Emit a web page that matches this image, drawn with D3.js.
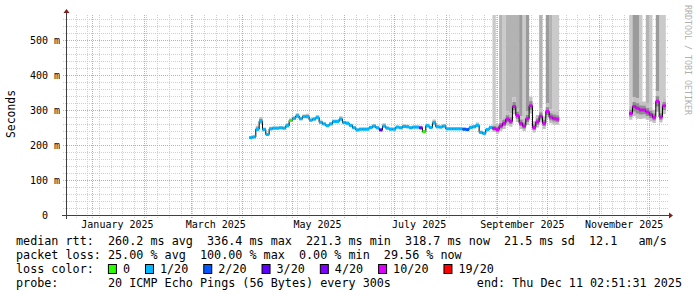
<!DOCTYPE html>
<html>
<head>
<meta charset="utf-8">
<script src="https://cdn.jsdelivr.net/npm/d3@7"></script>
<style>
  html, body { margin: 0; padding: 0; background: #fff; }
  svg { display: block; }
  text { font-family: "DejaVu Sans Mono", monospace; white-space: pre; }
</style>
</head>
<body>
<div id="svg-container"></div>
<script>
// graph time frame: 360 days ending at probe time
const endTime = '2025-12-11T02:51:31Z';
const spanDays = 360;
const stepDays = 2;
const yTop = 571.4; // ms at the top of the canvas

// month labels (placed half a month after the month start)
const monthLabels = ['January 2025', 'March 2025', 'May 2025', 'July 2025', 'September 2025', 'November 2025'];
const monthLabelDates = ['2025-01-01', '2025-03-01', '2025-05-01', '2025-07-01', '2025-09-01', '2025-11-01'];

// first block: Apr 5 -> Sep 7, one value every 2 days (ms)
const medA = [
  221, 223, 245, 268, 244, 230, 246, 248, 248, 249,
  248, 255, 270, 276, 283, 275, 281, 281, 271, 274,
  278, 265, 260, 255, 260, 267, 267, 274, 264, 262,
  256, 249, 243, 245, 245, 245, 250, 254, 249, 243,
  254, 248, 245, 245, 251, 249, 253, 252, 249, 251,
  251, 249, 238, 255, 250, 263, 252, 251, 254, 246,
  246, 246, 246, 246, 245, 244, 250, 252, 256, 236,
  233, 244, 250, 247, 244, 254, 262, 274, 268, 310,
  284, 262, 254, 275, 312, 250, 266, 282, 262, 296,
  280, 276, 274
];
const lossA = [
  1, 1, 1, 1, 1, 1, 1, 1, 1, 1,
  1, 1, 0, 1, 1, 1, 1, 1, 1, 1,
  1, 1, 1, 1, 1, 1, 1, 1, 1, 1,
  1, 1, 1, 1, 1, 1, 1, 1, 1, 3,
  1, 1, 1, 1, 1, 1, 1, 1, 1, 1,
  1, 4, 0, 1, 1, 1, 1, 1, 1, 1,
  1, 1, 1, 1, 2, 2, 1, 1, 1, 1,
  1, 1, 1, 6, 7, 6, 8, 9, 8, 7,
  6, 7, 8, 6, 7, 9, 6, 7, 8, 7,
  6, 7, 6
];
// smoke spread above / below the median (ms)
const upA = [
  4, 4, 10, 12, 6, 5, 6, 5, 5, 5,
  5, 8, 6, 6, 8, 6, 6, 8, 5, 5,
  8, 5, 5, 5, 5, 6, 6, 8, 5, 5,
  5, 5, 5, 5, 5, 5, 5, 6, 5, 5,
  8, 5, 5, 5, 5, 5, 6, 6, 5, 5,
  5, 6, 5, 6, 5, 10, 6, 5, 6, 5,
  5, 5, 5, 5, 5, 5, 6, 6, 8, 5,
  5, 5, 6, 14, 16, 18, 20, 22, 22, 26,
  22, 20, 20, 22, 26, 18, 20, 22, 20, 24,
  22, 22, 20
];
const downA = [
  3, 3, 6, 8, 5, 4, 4, 3, 3, 3,
  3, 4, 4, 4, 5, 4, 4, 5, 4, 4,
  4, 4, 3, 3, 3, 4, 4, 5, 4, 4,
  4, 3, 3, 3, 3, 3, 3, 4, 3, 3,
  4, 3, 3, 3, 3, 3, 4, 4, 3, 3,
  3, 4, 3, 4, 3, 5, 4, 3, 4, 3,
  3, 3, 3, 3, 3, 3, 4, 4, 5, 3,
  3, 3, 4, 10, 12, 14, 16, 18, 16, 22,
  18, 16, 14, 18, 22, 14, 16, 18, 16, 20,
  18, 18, 16
];
// pings slower than the graph top (0 = none, 3 = many)
const slowA = [
  0, 0, 0, 0, 0, 0, 0, 0, 0, 0,
  0, 0, 0, 0, 0, 0, 0, 0, 0, 0,
  0, 0, 0, 0, 0, 0, 0, 0, 0, 0,
  0, 0, 0, 0, 0, 0, 0, 0, 0, 0,
  0, 0, 0, 0, 0, 0, 0, 0, 0, 0,
  0, 0, 0, 0, 0, 0, 0, 0, 0, 0,
  0, 0, 0, 0, 0, 0, 0, 0, 0, 0,
  0, 0, 0, 1, 0, 2, 1, 2, 2, 2,
  2, 3, 1, 3, 0, 0, 0, 2, 0, 3,
  2, 1, 1
];

// second block: Nov 19 -> Dec 11
const medB = [290, 310, 305, 300, 300, 294, 287, 279, 325, 280, 312];
const lossB = [7, 6, 8, 7, 6, 7, 8, 6, 7, 6, 6];
const upB = [22, 26, 28, 25, 24, 24, 22, 22, 28, 22, 22];
const downB = [18, 28, 30, 26, 24, 22, 20, 16, 30, 16, 24];
const slowB = [1, 3, 3, 1, 0, 2, 1, 0, 3, 1, 1];

const segments = [
  { first: '2025-04-05', median: medA, loss: lossA, up: upA, down: downA, slow: slowA },
  { first: '2025-11-19', median: medB, loss: lossB, up: upB, down: downB, slow: slowB }
];

// loss colours (smokeping defaults)
const lossSteps = [0, 1, 2, 3, 4, 10, 19];
const lossLabels = ['0', '1/20', '2/20', '3/20', '4/20', '10/20', '19/20'];
const lossColors = ['#26ff00', '#00b8ff', '#0059ff', '#5e00ff', '#7e00ff', '#dd00ff', '#ff0000'];
const slowShades = ['#cacaca', '#b3b3b3', '#9b9b9b'];

// legend texts
const legendRows = [
  'median rtt:  260.2 ms avg  336.4 ms max  221.3 ms min  318.7 ms now  21.5 ms sd  12.1   am/s',
  'packet loss: 25.00 % avg  100.00 % max  0.00 % min  29.56 % now',
  'loss color:',
  'probe:       20 ICMP Echo Pings (56 Bytes) every 300s'
];
const endLabel = 'end: Thu Dec 11 02:51:31 2025';

// dimensions
const dim = {
  width: 697,
  height: 297,
  left: 66,
  right: 666,
  top: 15,
  bottom: 215
};

const svg = d3.select('#svg-container')
  .append('svg')
  .attr('width', dim.width)
  .attr('height', dim.height)
  .style('background', '#fff');

const end = new Date(endTime);
const start = d3.utcDay.offset(end, -spanDays);

const x = d3.scaleUtc().domain([start, end]).range([dim.left, dim.right]);
const y = d3.scaleLinear().domain([0, yTop]).range([dim.bottom, dim.top]);

const lossColor = d3.scaleThreshold()
  .domain(lossSteps.slice(0, -1).map(s => s + 1))
  .range(lossColors);

// each segment as step points, with a closing point at the end
const segPoints = segments.map(seg => {
  const first = new Date(seg.first + 'T00:00:00Z');
  const pts = seg.median.map((m, i) => {
    const t0 = d3.utcDay.offset(first, i * stepDays);
    return {
      t: t0, t1: d3.utcDay.offset(t0, stepDays),
      med: m, loss: seg.loss[i], up: seg.up[i], down: seg.down[i], slow: seg.slow[i]
    };
  });
  const last = pts[pts.length - 1];
  return pts.concat([Object.assign({}, last, { t: last.t1 })]);
});
const points = segPoints.flatMap(pts => pts.slice(0, -1));

// grid (under the graph)
const grid = svg.append('g').attr('fill', 'none');
const px = v => Math.round(v) + 0.5;

grid.selectAll('.vminor')
  .data(d3.utcSunday.range(start, end))
  .join('line')
    .attr('x1', d => px(x(d))).attr('x2', d => px(x(d)))
    .attr('y1', dim.top).attr('y2', dim.bottom + 3)
    .attr('stroke', '#d0d0d0')
    .attr('stroke-dasharray', '1,1');

grid.selectAll('.hminor')
  .data(y.ticks(30).filter(v => v % 100 !== 0))
  .join('line')
    .attr('x1', dim.left - 3).attr('x2', dim.right + 3)
    .attr('y1', d => px(y(d))).attr('y2', d => px(y(d)))
    .attr('stroke', '#d0d0d0')
    .attr('stroke-dasharray', '1,1');

grid.selectAll('.vmajor')
  .data(d3.utcMonth.range(start, end))
  .join('line')
    .attr('x1', d => px(x(d))).attr('x2', d => px(x(d)))
    .attr('y1', dim.top).attr('y2', dim.bottom + 3)
    .attr('stroke', '#e89c9c')
    .attr('stroke-dasharray', '1,1');

grid.selectAll('.hmajor')
  .data(y.ticks(6).filter(v => v > 0))
  .join('line')
    .attr('x1', dim.left - 3).attr('x2', dim.right + 3)
    .attr('y1', d => px(y(d))).attr('y2', d => px(y(d)))
    .attr('stroke', '#e89c9c')
    .attr('stroke-dasharray', '1,1');

svg.append('clipPath').attr('id', 'canvas')
  .append('rect')
  .attr('x', dim.left).attr('y', dim.top)
  .attr('width', dim.right - dim.left).attr('height', dim.bottom - dim.top);

const plot = svg.append('g').attr('clip-path', 'url(#canvas)');

const stepArea = (lo, hi) => d3.area()
  .x(d => x(d.t))
  .y0(d => y(lo(d)))
  .y1(d => y(hi(d)))
  .curve(d3.curveStepAfter);

// slow pings reaching beyond the top, one layer per shade
slowShades.forEach((shade, k) => {
  const area = stepArea(d => d.med + d.up, d => d.slow === k + 1 ? yTop + 50 : d.med + d.up);
  plot.append('g')
    .selectAll('path')
    .data(segPoints)
    .join('path')
      .attr('d', area)
      .attr('fill', shade);
});

// smoke: outer and inner band
plot.append('g')
  .selectAll('path')
  .data(segPoints)
  .join('path')
    .attr('d', stepArea(d => d.med - d.down, d => d.med + d.up))
    .attr('fill', '#c2c2c2');

plot.append('g')
  .selectAll('path')
  .data(segPoints)
  .join('path')
    .attr('d', stepArea(d => d.med - d.down * 0.5, d => d.med + d.up * 0.5))
    .attr('fill', '#8e8e8e');

// median line
const medLine = d3.line()
  .x(d => x(d.t))
  .y(d => y(d.med))
  .curve(d3.curveStepAfter);

plot.append('g')
  .selectAll('path')
  .data(segPoints)
  .join('path')
    .attr('d', medLine)
    .attr('fill', 'none')
    .attr('stroke', '#000')
    .attr('stroke-width', 1);

// loss coloured median band
plot.append('g')
  .selectAll('rect')
  .data(points)
  .join('rect')
    .attr('x', p => x(p.t))
    .attr('width', p => x(p.t1) - x(p.t))
    .attr('y', p => y(p.med) - 1.5)
    .attr('height', 3)
    .attr('fill', p => lossColor(p.loss));

// axes
const axis = svg.append('g');
axis.append('line')
  .attr('x1', dim.left - 4).attr('x2', dim.right + 3)
  .attr('y1', px(y(0))).attr('y2', px(y(0)))
  .attr('stroke', '#404040');
axis.append('line')
  .attr('x1', px(dim.left)).attr('x2', px(dim.left))
  .attr('y1', dim.bottom + 4).attr('y2', dim.top - 2)
  .attr('stroke', '#404040');
axis.append('path')
  .attr('d', `M${px(dim.left) - 3},${dim.top - 2}L${px(dim.left)},${dim.top - 6}L${px(dim.left) + 3},${dim.top - 2}Z`)
  .attr('fill', '#7f1f1f');
axis.append('path')
  .attr('d', `M${dim.right + 3},${px(y(0)) - 3}L${dim.right + 7},${px(y(0))}L${dim.right + 3},${px(y(0)) + 3}Z`)
  .attr('fill', '#7f1f1f');

// y labels
const yFmt = d3.format('3d');
svg.append('g')
  .selectAll('text')
  .data(y.ticks(6))
  .join('text')
    .attr('x', dim.left - 36)
    .attr('y', d => y(d) + 3.6)
    .attr('font-size', '10px')
    .text(d => d === 0 ? yFmt(d) : `${yFmt(d)} m`);

// x labels
svg.append('g')
  .selectAll('text')
  .data(monthLabelDates)
  .join('text')
    .attr('x', d => x(d3.utcDay.offset(new Date(d + 'T00:00:00Z'), 15)))
    .attr('y', dim.bottom + 12.5)
    .attr('text-anchor', 'middle')
    .attr('font-size', '10px')
    .text((d, i) => monthLabels[i]);

// unit label
svg.append('text')
  .attr('transform', `translate(15, ${(dim.top + dim.bottom) / 2 - 1}) rotate(-90)`)
  .attr('text-anchor', 'middle')
  .attr('font-size', '11.4px')
  .text('Seconds');

// watermark
svg.append('text')
  .attr('transform', 'translate(685, 5) rotate(90)')
  .attr('font-size', '8.3px')
  .attr('fill', '#b0b0b0')
  .text('RRDTOOL / TOBI OETIKER');

// legend
const legendX = 16;
const charW = 7.07;
const rowY = [245, 259, 273, 287];
const legend = svg.append('g').attr('font-size', '11.75px');

legend.selectAll('.row')
  .data(legendRows)
  .join('text')
    .attr('x', legendX)
    .attr('y', (d, i) => rowY[i])
    .text(d => d);

legend.append('text')
  .attr('x', 682)
  .attr('y', rowY[3])
  .attr('text-anchor', 'end')
  .text(endLabel);

let bx = legendX + 13 * charW;
const items = lossLabels.map((label, i) => {
  const item = { label, color: lossColors[i], bx };
  bx += 15 + label.length * charW + 15;
  return item;
});

const lossItems = legend.selectAll('.loss')
  .data(items)
  .join('g');
lossItems.append('rect')
  .attr('x', d => d.bx + 0.5)
  .attr('y', rowY[2] - 8.5)
  .attr('width', 8)
  .attr('height', 9)
  .attr('fill', d => d.color)
  .attr('stroke', '#000');
lossItems.append('text')
  .attr('x', d => d.bx + 15)
  .attr('y', rowY[2])
  .text(d => d.label);
</script>
</body>
</html>
